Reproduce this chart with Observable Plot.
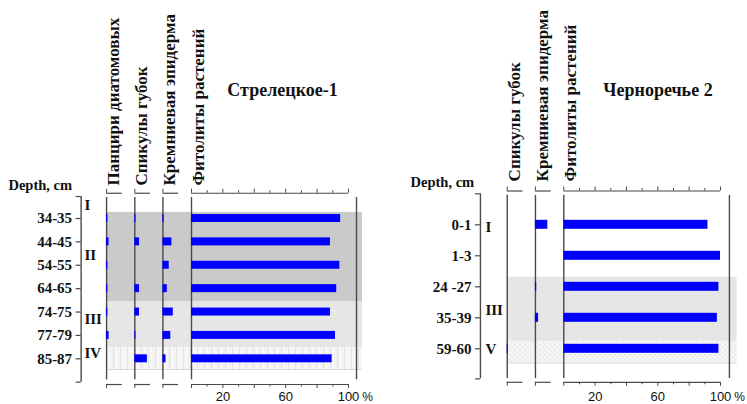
<!DOCTYPE html>
<html><head><meta charset="utf-8">
<script src="https://cdn.jsdelivr.net/npm/d3@7"></script>
<script src="https://cdn.jsdelivr.net/npm/@observablehq/plot@0.6"></script>
<style>
body{margin:0;background:#fff;}
#wrap{position:relative;width:747px;height:404px;overflow:hidden;background:#fff;}
#wrap svg{position:absolute;top:0;overflow:visible;}
</style></head><body><div id="wrap"></div>
<script>
// ---- Стрелецкое-1 ----
const titleL = "Стрелецкое-1";
const depthsL = ["34-35","44-45","54-55","64-65","74-75","77-79","85-87"];
const headersL = ["Панцири диатомовых","Спикулы губок","Кремниевая эпидерма","Фитолиты растений"];
const diatomsL = [0.8, 1.6, 0.8, 0.8, 0.8, 1.6, 0];
const spongesL = [0.7, 3, 0, 3, 3, 0.7, 8];
const epidermisL = [0.8, 5.7, 4, 2.8, 6.6, 5, 2];
const phytolithsL = [95, 88.5, 94.5, 92.5, 88.5, 91.7, 89.6];
const zonesL = ["I","II","III","IV"];
const zoneRowsL = [-0.56, 1.58, 4.3, 5.77];

// ---- Черноречье 2 ----
const titleR = "Черноречье 2";
const depthsR = ["0-1","1-3","24 -27","35-39","59-60"];
const headersR = ["Спикулы губок","Кремниевая эпидерма","Фитолиты растений"];
const spongesR = [0, 0, 0, 0, 0.7];
const epidermisR = [7.9, 0, 0.8, 2, 0];
const phytolithsR = [92, 100, 99, 98, 99];
const zonesR = ["I","III","V"];
const zoneRowsR = [0.07, 2.76, 4.0];

const xTickLabels = [20, 60, 100];
const depthTitle = "Depth, cm";

const SERIF = "'Liberation Serif','Times New Roman',serif";
const SANS = "'Liberation Sans',Arial,sans-serif";
const LINE = "#4a4a4a";
const BLUE = "#0000ff";

function panel(o) {
  const pxY = (o.yRange[1] - o.yRange[0]) / (o.yDomain[1] - o.yDomain[0]);
  const pxX = (o.xRange[1] - o.xRange[0]) / 100;
  const ty = n => n / pxY, tx = n => n / pxX;
  const m = [];
  // background zones
  for (const b of o.bands) {
    m.push(Plot.rect([b], {x1: () => o.bandX[0], x2: () => o.bandX[1], y1: d => d.from, y2: d => d.to, fill: b.fill}));
    if (b.edge) m.push(Plot.ruleY([b.to], {x1: o.bandX[0], x2: o.bandX[1], stroke: "#d6d6d6", strokeWidth: 1}));
  }
  // column baselines + border
  m.push(Plot.ruleX(o.cols.map(c => c.offset).concat([o.borderX]), {y1: o.vlineY[0], y2: o.vlineY[1], stroke: LINE, strokeWidth: 1.4}));
  // bars
  o.cols.forEach(c => {
    const rows = c.values.map((v, i) => ({v, i})).filter(d => d.v > 0);
    m.push(Plot.rect(rows, {x1: () => c.offset, x2: d => c.offset + d.v, y1: d => d.i - o.barHalf, y2: d => d.i + o.barHalf, fill: BLUE}));
  });
  // top and bottom column axes
  o.cols.forEach((c, k) => {
    const span = k === o.cols.length - 1 ? 100 : 10;
    m.push(Plot.ruleY([o.topAxisY, o.bottomAxisY], {x1: c.offset, x2: c.offset + span, stroke: LINE, strokeWidth: 1.2}));
    const ticks = span === 100 ? d3.range(0, 101, 10) : [0];
    m.push(Plot.ruleX(ticks, {x: d => c.offset + d, y1: o.topAxisY, y2: d => o.topAxisY - ty(d % 20 === 0 ? 4 : 2.5), stroke: LINE, strokeWidth: 1}));
    m.push(Plot.ruleX(ticks, {x: d => c.offset + d, y1: o.bottomAxisY, y2: d => o.bottomAxisY + ty(d % 20 === 0 ? 4 : 2.5), stroke: LINE, strokeWidth: 1}));
  });
  // depth axis
  m.push(Plot.ruleX([o.depthX], {y1: o.axisY[0], y2: o.axisY[1], stroke: LINE, strokeWidth: 1.4}));
  m.push(Plot.ruleY([o.axisY[0], ...o.depths.map((d, i) => i), o.axisY[1]], {x1: o.depthX - tx(5), x2: o.depthX, stroke: LINE, strokeWidth: 1.2}));
  m.push(Plot.text(o.depths, {x: o.depthX, y: (d, i) => i, text: d => d, dx: -9, textAnchor: "end", fontFamily: SERIF, fontWeight: "bold", fontSize: 15, fill: "#111"}));
  // zones
  m.push(Plot.text(o.zones, {x: o.zoneX, y: (d, i) => o.zoneRows[i], text: d => d, textAnchor: "start", fontFamily: SERIF, fontWeight: "bold", fontSize: 15, fill: "#111"}));
  // headers
  m.push(Plot.text(o.cols, {x: d => d.offset, y: o.headerY, text: d => d.name, rotate: -90, textAnchor: "start", dx: 7, fontFamily: SERIF, fontWeight: "bold", fontSize: 17, fill: "#111"}));
  // title
  m.push(Plot.text([o.title], {x: o.titleX, y: o.titleY, text: d => d, fontFamily: SERIF, fontWeight: "bold", fontSize: 18, fill: "#111"}));
  m.push(Plot.text([depthTitle], {x: o.depthHeadX, y: o.depthHeadY, text: d => d, textAnchor: "start", fontFamily: SERIF, fontWeight: "bold", fontSize: 14.5, fill: "#111"}));
  // bottom tick labels
  m.push(Plot.text(xTickLabels, {x: d => d, y: o.labelY, text: d => String(d), fontFamily: SANS, fontSize: 13, fill: "#111"}));
  m.push(Plot.text(["%"], {x: 100, y: o.labelY, text: d => d, dx: 19, fontFamily: SANS, fontSize: 12, fill: "#111"}));

  const svg = Plot.plot({
    width: o.width, height: 404, margin: 0,
    x: {type: "linear", domain: [0, 100], range: o.xRange, axis: null},
    y: {type: "linear", domain: o.yDomain, range: o.yRange, axis: null},
    style: {background: "transparent", overflow: "visible"},
    marks: m
  });
  const defs = d3.select(svg).insert("defs", ":first-child");
  const pv = defs.append("pattern").attr("id", "hatchV").attr("patternUnits", "userSpaceOnUse").attr("width", 7).attr("height", 10);
  pv.append("rect").attr("width", 7).attr("height", 10).attr("fill", "#f4f4f4");
  pv.append("rect").attr("x", 1).attr("width", 1).attr("height", 10).attr("fill", "#e3e3e3");
  pv.append("rect").attr("x", 4).attr("width", 1).attr("height", 10).attr("fill", "#fbfbfb");
  const px = defs.append("pattern").attr("id", "hatchX").attr("patternUnits", "userSpaceOnUse").attr("width", 5).attr("height", 5);
  px.append("rect").attr("width", 5).attr("height", 5).attr("fill", "#f7f7f7");
  px.append("path").attr("d", "M0,0L5,5M5,0L0,5").attr("stroke", "#e6e6e6").attr("stroke-width", 0.8);
  svg.style.left = o.left + "px";
  return svg;
}

const wrap = document.getElementById("wrap");
wrap.appendChild(panel({
  left: 0, width: 375,
  xRange: [191, 348], yDomain: [0, 6], yRange: [218, 358.3],
  depths: depthsL, title: titleL,
  cols: [
    {name: headersL[0], offset: -54.1, values: diatomsL},
    {name: headersL[1], offset: -36.1, values: spongesL},
    {name: headersL[2], offset: -18.2, values: epidermisL},
    {name: headersL[3], offset: 0, values: phytolithsL}
  ],
  depthX: -70.3, axisY: [-0.94, 7.0], vlineY: [-0.9, 6.9],
  topAxisY: -1.08, bottomAxisY: 7.1, borderX: 105.1,
  bandX: [-54.1, 108.9],
  bands: [
    {from: -0.26, to: 3.55, fill: "#cacaca"},
    {from: 3.55, to: 5.52, fill: "#e6e6e6"},
    {from: 5.52, to: 6.46, fill: "url(#hatchV)", edge: true}
  ],
  zoneX: -68.2, zones: zonesL, zoneRows: zoneRowsL,
  titleX: 58, titleY: -5.47, headerY: -1.41,
  depthHeadX: -116.6, depthHeadY: -1.41,
  labelY: 7.64, barHalf: 4 / 23.38
}));
wrap.appendChild(panel({
  left: 375, width: 372,
  xRange: [188.3, 345], yDomain: [0, 4], yRange: [224.3, 348.3],
  depths: depthsR, title: titleR,
  cols: [
    {name: headersR[0], offset: -36.1, values: spongesR},
    {name: headersR[1], offset: -18.1, values: epidermisR},
    {name: headersR[2], offset: 0, values: phytolithsR}
  ],
  depthX: -53.2, axisY: [-1.0, 4.97], vlineY: [-0.95, 4.96],
  topAxisY: -1.09, bottomAxisY: 5.08, borderX: 105.7,
  bandX: [-36.1, 110.6],
  bands: [
    {from: 1.69, to: 3.76, fill: "#e6e6e6"},
    {from: 3.76, to: 4.46, fill: "url(#hatchX)", edge: true}
  ],
  zoneX: -50, zones: zonesR, zoneRows: zoneRowsR,
  titleX: 60.1, titleY: -4.33, headerY: -1.4,
  depthHeadX: -97.8, depthHeadY: -1.36,
  labelY: 5.55, barHalf: 4.5 / 31
}));
</script>
</body></html>
